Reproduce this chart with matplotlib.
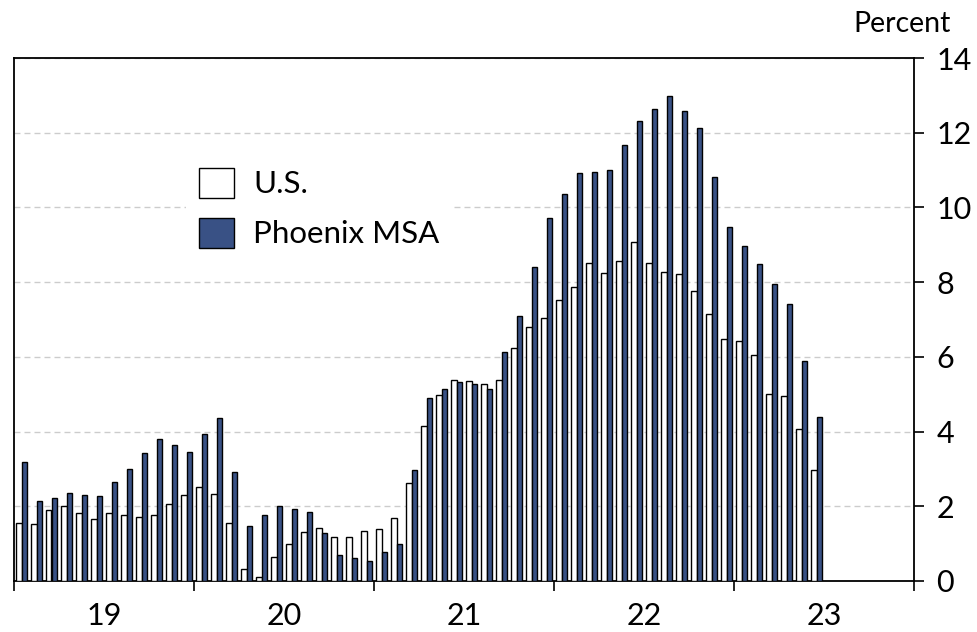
import numpy as np
import matplotlib
matplotlib.use("Agg")
import matplotlib.pyplot as plt
from matplotlib.patches import Patch

plt.rcParams['font.family'] = ['Lato', 'DejaVu Sans']

# monthly values, Jan 2019 - Jun 2023, percent
us = [1.56, 1.52, 1.89, 2.02, 1.81, 1.65, 1.81, 1.77, 1.72, 1.77, 2.05, 2.30,
      2.51, 2.34, 1.56, 0.32, 0.12, 0.65, 0.98, 1.32, 1.41, 1.19, 1.19, 1.35,
      1.40, 1.69, 2.62, 4.16, 4.98, 5.39, 5.35, 5.27, 5.39, 6.23, 6.81, 7.05,
      7.52, 7.88, 8.52, 8.25, 8.57, 9.07, 8.52, 8.28, 8.21, 7.75, 7.14, 6.47,
      6.42, 6.06, 5.00, 4.94, 4.08, 2.96]
phoenix = [3.18, 2.14, 2.22, 2.35, 2.30, 2.27, 2.64, 3.01, 3.43, 3.79, 3.63, 3.46,
           3.93, 4.37, 2.93, 1.48, 1.78, 2.02, 1.94, 1.86, 1.28, 0.70, 0.61, 0.54,
           0.78, 0.99, 2.96, 4.91, 5.14, 5.34, 5.27, 5.14, 6.14, 7.09, 8.41, 9.73,
           10.35, 10.92, 10.96, 11.01, 11.66, 12.32, 12.64, 12.99, 12.57, 12.12, 10.81, 9.48,
           8.98, 8.49, 7.96, 7.41, 5.89, 4.40]
year_labels = ['19', '20', '21', '22', '23']

navy = '#395185'
w = 0.36

fig = plt.figure(figsize=(9.77, 6.32), dpi=100)
ax = fig.add_axes([14/977, 1-581/632, 900/977, 523/632])

x = np.arange(len(us)) + 0.5
ax.bar(x - w/2, us, w, color='white', edgecolor='black', linewidth=1.0, zorder=3)
ax.bar(x + w/2, phoenix, w, color=navy, edgecolor='black', linewidth=1.0, zorder=3)

ax.set_xlim(0, 60)
ax.set_ylim(0, 14)

# year boundaries as ticks, labels centred in each year
ax.set_xticks(np.arange(0, 61, 12))
ax.set_xticklabels([])
ax.set_xticks(np.arange(6, 60, 12), minor=True)
ax.set_xticklabels(year_labels, minor=True)
ax.tick_params(axis='x', which='major', direction='out', length=7, width=1.2)
ax.tick_params(axis='x', which='minor', length=0, pad=15, labelsize=22)

ax.yaxis.tick_right()
ax.set_yticks(np.arange(0, 15, 2))
ax.tick_params(axis='y', direction='out', length=7, width=1.2, pad=9, labelsize=22)

ax.grid(axis='y', color='#cccccc', linewidth=1, linestyle=(0, (4.3, 2.9)), zorder=0)
for sp in ax.spines.values():
    sp.set_linewidth(1.3)

fig.text(951/977, 1-32/632, 'Percent', ha='right', va='baseline', fontsize=20.5)

handles = [Patch(facecolor='white', edgecolor='black', linewidth=1),
           Patch(facecolor=navy, edgecolor='black', linewidth=1)]
leg = ax.legend(handles, ['U.S.', 'Phoenix MSA'], loc='upper left',
                bbox_to_anchor=(186/977, 1-155/632), bbox_transform=fig.transFigure,
                fontsize=22.5, frameon=True, fancybox=False, framealpha=1,
                edgecolor='none', facecolor='white', handlelength=1.15,
                handleheight=1.1, handletextpad=0.6, labelspacing=0.62,
                borderpad=0.4, borderaxespad=0)
leg.set_zorder(5)

fig.savefig('out.png', dpi=100)
